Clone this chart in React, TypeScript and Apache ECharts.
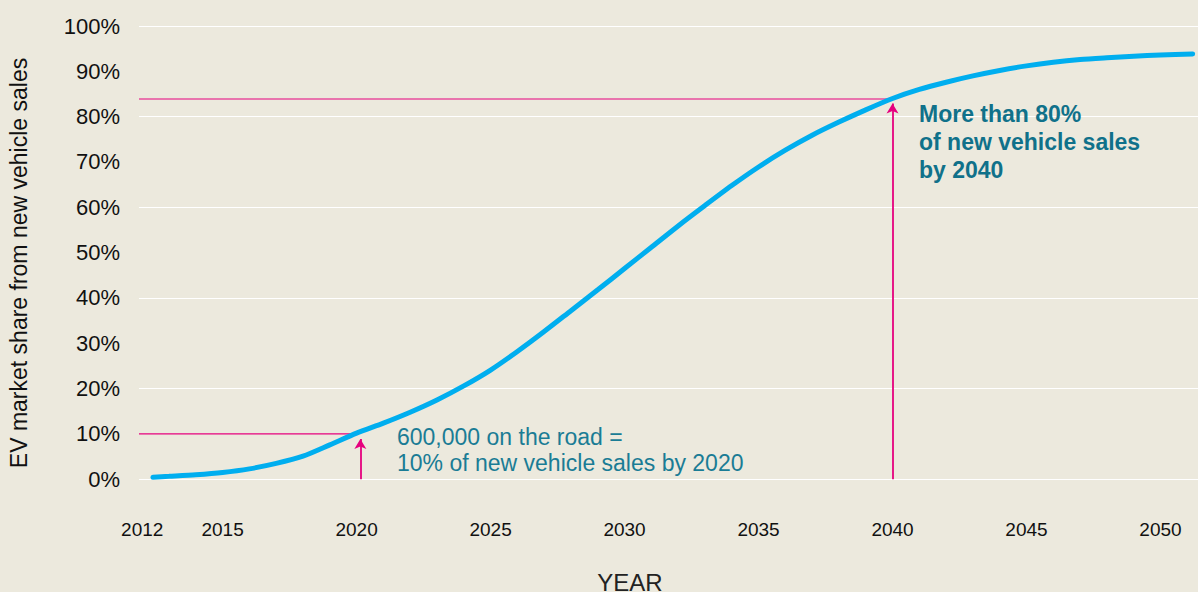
import React, { useEffect, useRef } from "react";
import * as echarts from "echarts";

const years: number[] = [2012.4, 2013, 2014, 2015, 2016, 2017, 2018, 2019, 2020, 2021, 2022, 2023, 2024, 2025, 2026, 2027, 2028, 2029, 2030, 2031, 2032, 2033, 2034, 2035, 2036, 2037, 2038, 2039, 2040, 2041, 2042, 2043, 2044, 2045, 2046, 2047, 2048, 2049, 2050, 2051.2];
const shares: number[] = [0.45, 0.65, 1.0, 1.5, 2.3, 3.5, 5.1, 7.6, 10.2, 12.4, 14.8, 17.5, 20.6, 24.1, 28.2, 32.6, 37.2, 41.8, 46.5, 51.2, 55.9, 60.4, 64.8, 68.9, 72.6, 75.9, 78.8, 81.5, 84.0, 86.0, 87.6, 89.0, 90.2, 91.2, 92.0, 92.6, 93.0, 93.35, 93.6, 93.85];
const yearTicks: number[] = [2012, 2015, 2020, 2025, 2030, 2035, 2040, 2045, 2050];
const xMin = 2011.88;
const xMax = 2051.4;

// annotation guides: [year where the guide meets the curve, share]
const guide2020: number[] = [2019.86, 10];
const arrow2020: number[] = [2020.14, 8.9];
const guide2040: number[] = [2039.84, 83.9];
const arrow2040: number[] = [2040.0, 82.9];

const BG = "#ECE9DD";
const MAGENTA = "#E6007E";
const BLUE = "#00AEEF";
const FONT = "Liberation Sans, Arial, sans-serif";

export default function App() {
  const ref = useRef<HTMLDivElement>(null);
  useEffect(() => {
    if (!ref.current) return;
    const chart = echarts.init(ref.current, null, { renderer: "svg" });
    const data = years.map((y, i) => [y, shares[i]]);
    const guideSeries = (g: number[]) => ({
      type: "line",
      data: [[xMin, g[1]], [g[0], g[1]]],
      showSymbol: false,
      symbol: "none",
      silent: true,
      lineStyle: { color: MAGENTA, width: 1.2 },
      z: 2,
    });
    chart.setOption({
      animation: false,
      backgroundColor: BG,
      grid: { left: 139, right: 0, top: 26, bottom: 112.7, containLabel: false },
      xAxis: {
        type: "value",
        min: xMin,
        max: xMax,
        axisLine: { show: false },
        axisTick: { show: false },
        splitLine: { show: false },
        axisLabel: {
          customValues: yearTicks,
          formatter: (v: number) => String(Math.round(v)),
          margin: 41,
          fontSize: 19,
          color: "#111",
          fontFamily: FONT,
        },
      },
      yAxis: [
        {
          type: "value",
          min: 0,
          max: 100,
          interval: 10,
          axisLine: { show: false },
          axisTick: { show: false },
          splitLine: { show: false },
          axisLabel: {
            formatter: "{value}%",
            margin: 19,
            fontSize: 22,
            color: "#111",
            fontFamily: FONT,
          },
        },
        {
          type: "value",
          position: "left",
          min: 0,
          max: 100,
          interval: 20,
          axisLine: { show: false },
          axisTick: { show: false },
          axisLabel: { show: false },
          splitLine: { show: true, lineStyle: { color: "#ffffff", width: 1.2 } },
        },
      ],
      graphic: [
        {
          type: "text",
          x: 18.5,
          y: 263,
          rotation: Math.PI / 2,
          z: 100,
          style: {
            text: "EV market share from new vehicle sales",
            fontSize: 23,
            fontFamily: FONT,
            fill: "#111",
            align: "center",
            verticalAlign: "middle",
          },
        },
        {
          type: "text",
          x: 630,
          y: 582,
          z: 100,
          style: {
            text: "YEAR",
            fontSize: 24,
            fontFamily: FONT,
            fill: "#222",
            align: "center",
            verticalAlign: "middle",
          },
        },
        {
          type: "text",
          x: 397,
          y: 424,
          z: 100,
          style: {
            text: "600,000 on the road =\n10% of new vehicle sales by 2020",
            fontSize: 23,
            lineHeight: 26,
            fontFamily: FONT,
            fill: "#1A7C95",
            align: "left",
            verticalAlign: "top",
          },
        },
        {
          type: "text",
          x: 919,
          y: 100,
          z: 100,
          style: {
            text: "More than 80%\nof new vehicle sales\nby 2040",
            fontSize: 23,
            fontWeight: "bold",
            lineHeight: 28,
            fontFamily: FONT,
            fill: "#10718A",
            align: "left",
            verticalAlign: "top",
          },
        },
      ],
      series: [
        guideSeries(guide2020),
        guideSeries(guide2040),
        {
          type: "line",
          data,
          smooth: 0.25,
          showSymbol: false,
          symbol: "none",
          lineStyle: { color: BLUE, width: 5, cap: "round" },
          z: 3,
          markLine: {
            silent: true,
            symbol: ["none", "arrow"],
            symbolSize: [9, 10],
            label: { show: false },
            lineStyle: { color: MAGENTA, type: "solid", width: 1.8 },
            z: 2,
            data: [
              [
                { coord: [arrow2020[0], 0] },
                { coord: [arrow2020[0], arrow2020[1]] },
              ],
              [
                { coord: [arrow2040[0], 0] },
                { coord: [arrow2040[0], arrow2040[1]] },
              ],
            ],
          },
        },
      ],
    });
    return () => chart.dispose();
  }, []);
  return (
    <div
      ref={ref}
      style={{ position: "fixed", left: 0, top: 0, width: 1198, height: 592 }}
    />
  );
}
